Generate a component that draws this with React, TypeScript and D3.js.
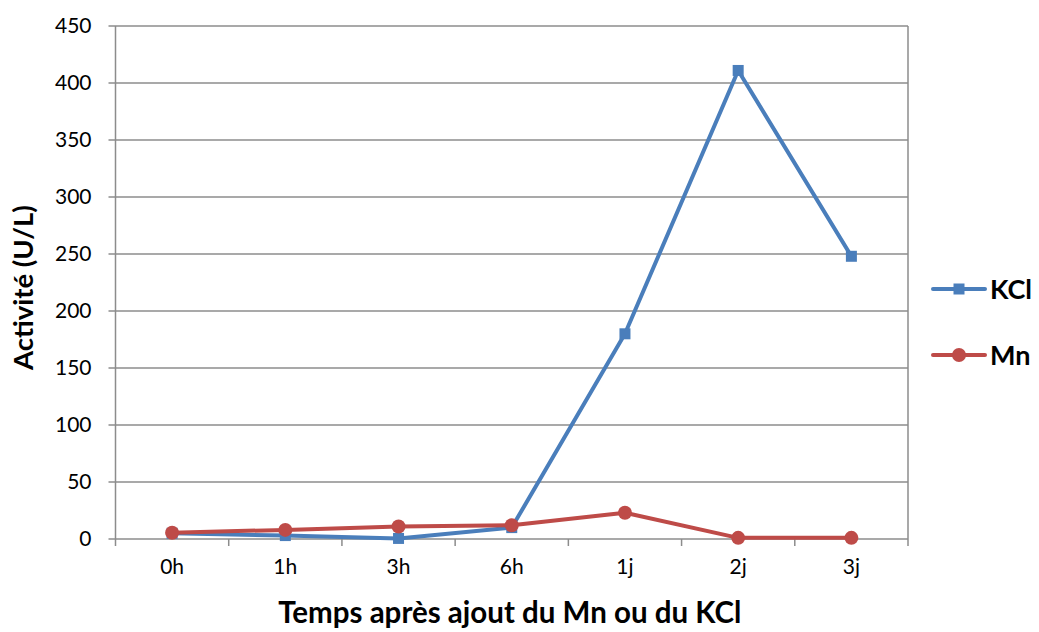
import React, { useEffect, useRef } from 'react';
import * as d3 from 'd3';

const categories = ['0h', '1h', '3h', '6h', '1j', '2j', '3j'];
const kclValues = [5, 3, 0.5, 10, 180, 411, 248];
const mnValues = [5.5, 8, 11, 12, 23, 1, 1];
const yTicks = [0, 50, 100, 150, 200, 250, 300, 350, 400, 450];

const width = 1039;
const height = 632;
const margin = { top: 26, left: 115.5, right: 131, bottom: 93 };
const font = 'Lato, "Open Sans", sans-serif';
const blue = '#4A7EBB';
const red = '#BE4B48';
const grid = '#8c8c8c';

const App: React.FC = () => {
  const ref = useRef<SVGSVGElement>(null);

  useEffect(() => {
    if (!ref.current) return;
    const svg = d3.select(ref.current);
    svg.selectAll('*').remove();

    const innerW = width - margin.left - margin.right;
    const innerH = height - margin.top - margin.bottom;

    const x = d3.scaleBand<string>().domain(categories).range([0, innerW]);
    const y = d3.scaleLinear().domain([0, 450]).range([innerH, 0]);

    const g = svg
      .append('g')
      .attr('transform', `translate(${margin.left},${margin.top})`);

    // grid lines
    g.append('g')
      .selectAll('line')
      .data(yTicks)
      .join('line')
      .attr('x1', -7)
      .attr('x2', innerW)
      .attr('y1', (d) => y(d))
      .attr('y2', (d) => y(d))
      .attr('stroke', grid)
      .attr('stroke-width', 1.5);

    // y axis line
    g.append('line')
      .attr('x1', 0)
      .attr('x2', 0)
      .attr('y1', 0)
      .attr('y2', innerH + 7)
      .attr('stroke', grid)
      .attr('stroke-width', 1.5);

    // x tick marks at band boundaries
    const bounds = categories.map((c) => x(c) as number).concat(innerW);
    g.append('g')
      .selectAll('line')
      .data(bounds.slice(1))
      .join('line')
      .attr('x1', (d) => d)
      .attr('x2', (d) => d)
      .attr('y1', innerH)
      .attr('y2', innerH + 7)
      .attr('stroke', grid)
      .attr('stroke-width', 1.5);
    g.append('line')
      .attr('x1', innerW)
      .attr('x2', innerW)
      .attr('y1', 0)
      .attr('y2', innerH)
      .attr('stroke', grid)
      .attr('stroke-width', 1.5);

    // y tick labels
    g.append('g')
      .selectAll('text')
      .data(yTicks)
      .join('text')
      .attr('x', -24)
      .attr('y', (d) => y(d))
      .attr('dy', '0.35em')
      .attr('text-anchor', 'end')
      .attr('font-family', font)
      .attr('font-size', 21)
      .attr('fill', '#000')
      .text((d) => d);

    // x tick labels
    g.append('g')
      .selectAll('text')
      .data(categories)
      .join('text')
      .attr('x', (d) => (x(d) as number) + x.bandwidth() / 2)
      .attr('y', innerH + 35)
      .attr('text-anchor', 'middle')
      .attr('font-family', font)
      .attr('font-size', 21)
      .attr('fill', '#000')
      .text((d) => d);

    const cx = (i: number) => (x(categories[i]) as number) + x.bandwidth() / 2;
    const line = d3
      .line<number>()
      .x((_, i) => cx(i))
      .y((d) => y(d));

    // KCl series
    g.append('path')
      .datum(kclValues)
      .attr('d', line)
      .attr('fill', 'none')
      .attr('stroke', blue)
      .attr('stroke-width', 4)
      .attr('stroke-linejoin', 'round');
    g.append('g')
      .selectAll('rect')
      .data(kclValues)
      .join('rect')
      .attr('x', (_, i) => cx(i) - 5.5)
      .attr('y', (d) => y(d) - 5.5)
      .attr('width', 11)
      .attr('height', 11)
      .attr('fill', blue);

    // Mn series
    g.append('path')
      .datum(mnValues)
      .attr('d', line)
      .attr('fill', 'none')
      .attr('stroke', red)
      .attr('stroke-width', 4)
      .attr('stroke-linejoin', 'round');
    g.append('g')
      .selectAll('circle')
      .data(mnValues)
      .join('circle')
      .attr('cx', (_, i) => cx(i))
      .attr('cy', (d) => y(d))
      .attr('r', 7)
      .attr('fill', red);

    // axis titles
    svg
      .append('text')
      .attr('x', margin.left + innerW / 2 - 2)
      .attr('y', 623)
      .attr('text-anchor', 'middle')
      .attr('font-family', font)
      .attr('font-weight', 'bold')
      .attr('font-size', 29.5)
      .text('Temps après ajout du Mn ou du KCl');
    svg
      .append('text')
      .attr('transform', `translate(33,${margin.top + innerH / 2 + 5}) rotate(-90)`)
      .attr('text-anchor', 'middle')
      .attr('font-family', font)
      .attr('font-weight', 'bold')
      .attr('font-size', 27.5)
      .text('Activité (U/L)');

    // legend
    const legend = [
      { name: 'KCl', color: blue, shape: 'square', yy: 289 },
      { name: 'Mn', color: red, shape: 'circle', yy: 355 },
    ];
    legend.forEach((l) => {
      const lg = svg.append('g');
      lg.append('line')
        .attr('x1', 933)
        .attr('x2', 985)
        .attr('y1', l.yy)
        .attr('y2', l.yy)
        .attr('stroke', l.color)
        .attr('stroke-width', 4)
        .attr('stroke-linecap', 'round');
      if (l.shape === 'square') {
        lg.append('rect')
          .attr('x', 959 - 5.5)
          .attr('y', l.yy - 5.5)
          .attr('width', 11)
          .attr('height', 11)
          .attr('fill', l.color);
      } else {
        lg.append('circle')
          .attr('cx', 959)
          .attr('cy', l.yy)
          .attr('r', 7)
          .attr('fill', l.color);
      }
      lg.append('text')
        .attr('x', 990)
        .attr('y', l.yy)
        .attr('dy', '0.36em')
        .attr('font-family', font)
        .attr('font-weight', 'bold')
        .attr('font-size', 27)
        .text(l.name);
    });
  }, []);

  return (
    <svg
      ref={ref}
      width={width}
      height={height}
      style={{ display: 'block', position: 'absolute', left: 0, top: 0, background: '#fff' }}
    />
  );
};

export default App;
